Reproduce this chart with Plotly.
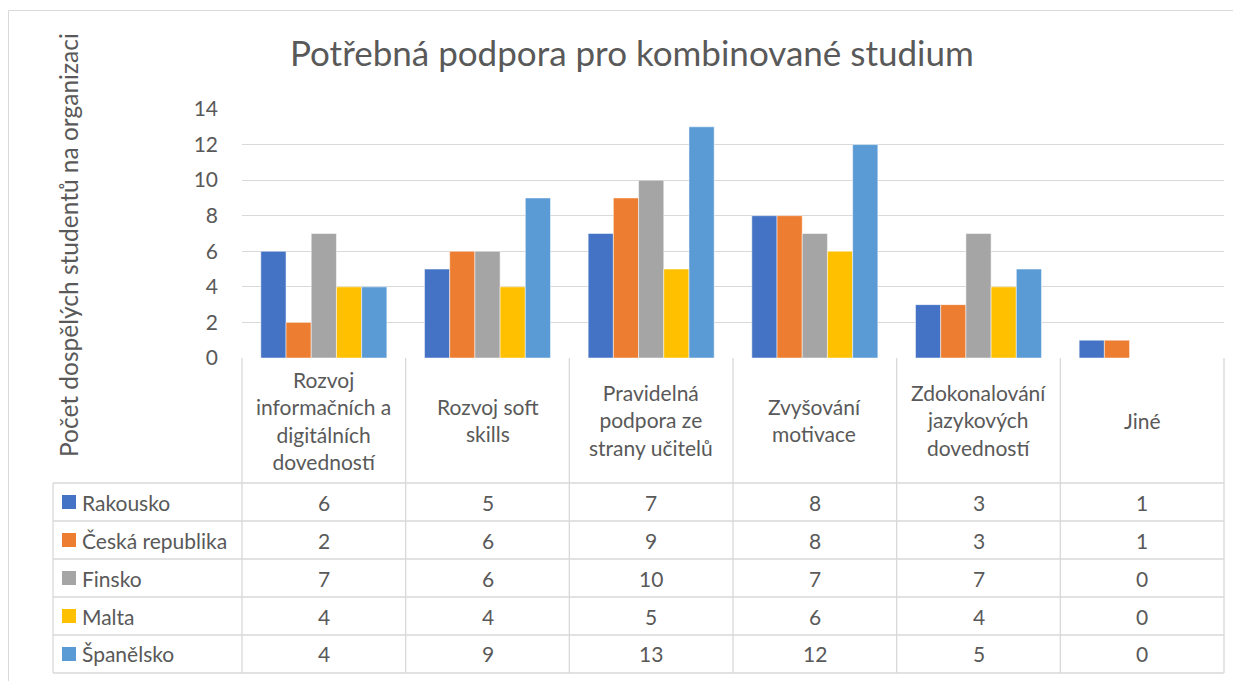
import plotly.graph_objects as go

categories = ["Rozvoj informačních a digitálních dovedností", "Rozvoj soft skills",
              "Pravidelná podpora ze strany učitelů", "Zvyšování motivace",
              "Zdokonalování jazykových dovedností", "Jiné"]
category_lines = [["Rozvoj", "informačních a", "digitálních", "dovedností"],
                  ["Rozvoj soft", "skills"],
                  ["Pravidelná", "podpora ze", "strany učitelů"],
                  ["Zvyšování", "motivace"],
                  ["Zdokonalování", "jazykových", "dovedností"],
                  ["Jiné"]]
series_names = ["Rakousko", "Česká republika", "Finsko", "Malta", "Španělsko"]
rakousko = [6, 5, 7, 8, 3, 1]
ceska = [2, 6, 9, 8, 3, 1]
finsko = [7, 6, 10, 7, 7, 0]
malta = [4, 4, 5, 6, 4, 0]
spanelsko = [4, 9, 13, 12, 5, 0]
series_values = [rakousko, ceska, finsko, malta, spanelsko]
colors = ["#4472C4", "#ED7D31", "#A5A5A5", "#FFC000", "#5B9BD5"]
y_ticks = [0, 2, 4, 6, 8, 10, 12, 14]

OFF = 8  # page body margin
W, H = 1241 - OFF, 681 - OFF
L, R, T, B = 242, 1224, 109, 358
FONT = "Lato"
TXT = "#595959"
LINE = "#D9D9D9"

def px(x):
    return (x - L) / (R - L)

def py(y):
    return (B - y) / (B - T)

fig = go.Figure()
for name, vals, c in zip(series_names, series_values, colors):
    fig.add_trace(go.Bar(x=list(range(len(categories))), y=vals, name=name,
                         marker=dict(color=c, line=dict(color="white", width=0.5)),
                         showlegend=False))

shapes = []
annotations = []
# outer chart border
shapes.append(dict(type="rect", xref="paper", yref="paper", x0=px(8.5), x1=px(1260),
                   y0=py(700), y1=py(10.5), line=dict(color="#D9D9D9", width=1)))

n = len(categories)
colw = (R - L) / n
row_top = [483, 521, 559, 597, 635]
row_h = 38
table_bottom = 673
for yv in row_top + [table_bottom]:
    shapes.append(dict(type="line", xref="paper", yref="paper", x0=px(53), x1=px(R),
                       y0=py(yv), y1=py(yv), line=dict(color=LINE, width=1.3)))
for k in range(n + 1):
    xv = L + k * colw
    shapes.append(dict(type="line", xref="paper", yref="paper", x0=px(xv), x1=px(xv),
                       y0=py(B), y1=py(table_bottom), line=dict(color=LINE, width=1.3)))
shapes.append(dict(type="line", xref="paper", yref="paper", x0=px(53), x1=px(53),
                   y0=py(483), y1=py(table_bottom), line=dict(color=LINE, width=1.3)))

for k, lines in enumerate(category_lines):
    annotations.append(dict(xref="paper", yref="paper", x=px(L + (k + 0.5) * colw), y=py(420),
                            text="<br>".join(lines), showarrow=False, xanchor="center",
                            yanchor="middle", align="center",
                            font=dict(family=FONT, size=21, color=TXT)))
for r, (name, vals, c) in enumerate(zip(series_names, series_values, colors)):
    yc = row_top[r] + row_h / 2
    shapes.append(dict(type="rect", xref="paper", yref="paper", x0=px(62), x1=px(76),
                       y0=py(yc + 7), y1=py(yc - 7), fillcolor=c, line=dict(width=0)))
    annotations.append(dict(xref="paper", yref="paper", x=px(80), y=py(yc), text=name,
                            showarrow=False, xanchor="left", yanchor="middle",
                            font=dict(family=FONT, size=21, color=TXT)))
    for k, v in enumerate(vals):
        annotations.append(dict(xref="paper", yref="paper", x=px(L + (k + 0.5) * colw), y=py(yc),
                                text=str(v), showarrow=False, xanchor="center", yanchor="middle",
                                font=dict(family=FONT, size=21, color=TXT)))

annotations.append(dict(xref="paper", yref="paper", x=px(632), y=py(52),
                        text="Potřebná podpora pro kombinované studium", showarrow=False,
                        xanchor="center", yanchor="middle",
                        font=dict(family=FONT, size=35, color=TXT)))
annotations.append(dict(xref="paper", yref="paper", x=px(68), y=py(245),
                        text="Počet dospělých studentů na organizaci", showarrow=False,
                        textangle=-90, xanchor="center", yanchor="middle",
                        font=dict(family=FONT, size=24.5, color=TXT)))

fig.update_layout(
    width=W, height=H,
    margin=dict(l=L - OFF, r=W - (R - OFF), t=T - OFF, b=H - (B - OFF)),
    paper_bgcolor="white", plot_bgcolor="white",
    barmode="group", bargap=0.23, bargroupgap=0,
    shapes=shapes, annotations=annotations,
    xaxis=dict(range=[-0.5, n - 0.5], showticklabels=False, showgrid=False, zeroline=False,
               showline=False, ticks=""),
    yaxis=dict(range=[0, 14], tickvals=y_ticks, showgrid=True, gridcolor=LINE, gridwidth=1.3,
               zeroline=False, showline=False, ticks="", ticklabelstandoff=23,
               tickfont=dict(family=FONT, size=21, color=TXT)),
)
fig.write_html("out.html")
